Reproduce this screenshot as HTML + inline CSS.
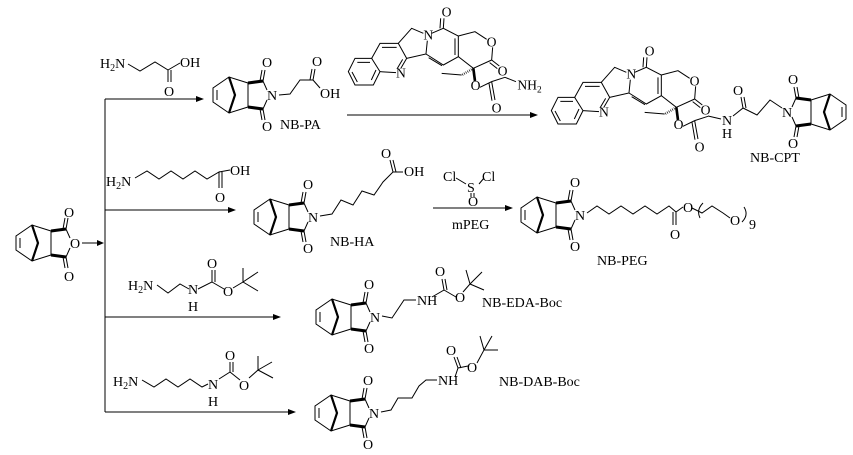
<!DOCTYPE html>
<html><head><meta charset="utf-8"><style>
html,body{margin:0;padding:0;background:#fff;}
svg{display:block;}
text{font-family:"Liberation Serif",serif;font-size:14px;fill:#000;}
.z text{font-size:41px;}
</style></head><body>
<svg width="853" height="455" viewBox="0 0 853 455" xmlns="http://www.w3.org/2000/svg">
<defs>
<g id="nb" stroke="#000" stroke-width="1" fill="none">
  <path d="M-5,-5 L-9,-14 L-24,-12 M-5,5 L-9,14 L-24,12 M-24,-12 L-24,12 M-24,-12 L-43,-18 L-59,-7 L-59,7 L-43,18 L-24,12 M-55,-5 L-55,5"/>
  <path d="M-9,-14 L-24,-12 M-9,14 L-24,12" stroke-width="3"/>
  <path d="M-43,-18 L-37,0 L-43,18" stroke-width="2.2"/>
  <path d="M-9,-14 L-7,-25 M-12,-14 L-10,-25 M-9,14 L-7,25 M-12,14 L-10,25"/>
</g>
<g id="cpt" stroke="#000" stroke-width="3" fill="none">
  <path d="M25,215 L45,175 L95,175 L120,215 L100,255 L45,255 Z M52,187 L90,187 M36,216 L52,246 M108,210 L94,240"/>
  <path d="M95,175 L120,130 L175,130 L200,175 L182,206 M168,218 L120,215 M126,142 L170,142 M188,178 L172,205"/>
  <path d="M175,130 L215,85 L250,100 M200,175 L258,162 L262,122"/>
  <path d="M275,100 L310,85 L355,108 L355,170 L310,195 L258,162 M345,115 L345,165 M266,173 L306,197 M310,85 L312,55 M300,85 L302,55"/>
  <path d="M355,108 L405,95 L440,118 M458,142 L455,180 L400,205 L355,170 M455,180 L478,198 M449,188 L472,206"/>
  <path d="M365,225 L305,220"/>
  <path d="M400,205 L366,225" stroke-width="7" stroke-dasharray="2 4"/>
  <path d="M400,205 L405,243" stroke-width="8"/>
  <path d="M420,262 L455,245 L465,300 M447,250 L456,302 M455,245 L495,232"/>
</g>
</defs>

<g stroke="#000" stroke-width="1" fill="none">
  <path d="M82,243 L100,243"/>
  <path d="M105,99 L105,412"/>
  <path d="M105,99 L197,99 M105,210 L229,210 M105,317 L274,317 M105,412 L289,412"/>
  <path d="M347,115 L531,115 M433,208 L506,208"/>
</g>
<g fill="#000">
  <path d="M104,243 l-7,-3 v6z"/>
  <path d="M204,99 l-8,-3 v6z"/>
  <path d="M236,210 l-8,-3 v6z"/>
  <path d="M281,317 l-8,-3 v6z"/>
  <path d="M296,412 l-8,-3 v6z"/>
  <path d="M538,115 l-8,-3 v6z"/>
  <path d="M513,208 l-8,-3 v6z"/>
</g>

<use href="#nb" x="75" y="243"/>
<text x="75" y="248" text-anchor="middle">O</text>
<text x="69" y="217" text-anchor="middle">O</text>
<text x="69" y="281" text-anchor="middle">O</text>

<g stroke="#000" fill="none"><path d="M128,64 L140,71 L155,62 L168,70 L168,82 M171,70 L171,82 M168,70 L180,63"/></g>
<text x="100" y="68">H<tspan font-size="10" dy="3">2</tspan><tspan dy="-3">N</tspan></text>
<text x="164" y="96">O</text>
<text x="180" y="67">OH</text>

<use href="#nb" x="272" y="95"/>
<text x="272" y="100" text-anchor="middle">N</text>
<text x="267" y="67" text-anchor="middle">O</text>
<text x="267" y="131" text-anchor="middle">O</text>
<g stroke="#000" fill="none"><path d="M279,95 L290,94 L300,80 L313,80 L315,69 M310,80 L312,69 M313,80 L320,88"/></g>
<text x="312" y="66">O</text>
<text x="320" y="98">OH</text>
<text x="280" y="129">NB-PA</text>

<g transform="translate(340,0) scale(0.3333)" class="z">
  <use href="#cpt"/>
  <g stroke="#000" stroke-width="3" fill="none"><path d="M495,232 L528,245"/></g>
  <text x="168" y="232">N</text>
  <text x="250" y="118">N</text>
  <text x="305" y="50">O</text>
  <text x="440" y="140">O</text>
  <text x="473" y="226">O</text>
  <text x="392" y="270">O</text>
  <text x="455" y="338">O</text>
  <text x="532" y="268">NH<tspan font-size="28" dy="9">2</tspan></text>
</g>

<g transform="translate(543,39) scale(0.3333)" class="z">
  <use href="#cpt"/>
  <text x="168" y="232">N</text>
  <text x="250" y="118">N</text>
  <text x="305" y="50">O</text>
  <text x="440" y="140">O</text>
  <text x="473" y="226">O</text>
  <text x="392" y="270">O</text>
  <text x="455" y="338">O</text>
</g>
<g stroke="#000" fill="none"><path d="M708,116 L721,119 M733,116 L743,108 L741,97 M746,108 L744,97 M743,108 L757,115 L770,100 L782,108"/></g>
<text x="727" y="125" text-anchor="middle">N</text>
<text x="727" y="138" text-anchor="middle">H</text>
<text x="738" y="95" text-anchor="middle">O</text>
<use href="#nb" transform="translate(787,112) scale(-1,1)"/>
<text x="787" y="117" text-anchor="middle">N</text>
<text x="793" y="84" text-anchor="middle">O</text>
<text x="793" y="148" text-anchor="middle">O</text>
<text x="750" y="162">NB-CPT</text>

<g stroke="#000" fill="none"><path d="M135,178 L147,171 L159,179 L171,171 L183,179 L195,171 L207,179 L219,172 L219,188 M222,172 L222,188 M219,172 L230,170"/></g>
<text x="106" y="186">H<tspan font-size="10" dy="3">2</tspan><tspan dy="-3">N</tspan></text>
<text x="215" y="202">O</text>
<text x="230" y="175">OH</text>

<use href="#nb" x="313" y="217"/>
<text x="313" y="222" text-anchor="middle">N</text>
<text x="308" y="189" text-anchor="middle">O</text>
<text x="308" y="253" text-anchor="middle">O</text>
<g stroke="#000" fill="none"><path d="M320,216 L332,214 L341,200 L353,205 L362,191 L374,195 L383,182 L393,172 L390,160 M396,172 L393,160 M393,172 L403,172"/></g>
<text x="386" y="158" text-anchor="middle">O</text>
<text x="404" y="176">OH</text>
<text x="330" y="246">NB-HA</text>

<text x="443" y="181">Cl</text>
<text x="467" y="192">S</text>
<text x="482" y="181">Cl</text>
<text x="468" y="206">O</text>
<g stroke="#000" fill="none"><path d="M456,178 L466,184 M479,184 L484,178 M471,193 L471,197 M474,193 L474,197"/></g>
<text x="452" y="229">mPEG</text>

<use href="#nb" x="580" y="215"/>
<text x="580" y="220" text-anchor="middle">N</text>
<text x="575" y="187" text-anchor="middle">O</text>
<text x="575" y="251" text-anchor="middle">O</text>
<g stroke="#000" fill="none"><path d="M587,213 L597,206 L609,214 L621,206 L633,214 L645,206 L657,214 L669,206 L676,212 L676,225 M673,212 L673,225 M676,212 L683,207 M692,208 L702,213 L712,206 L723,213 L730,218 M700,218 Q696,210 703,203 M742,222 Q749,215 744,207"/></g>
<text x="670" y="239">O</text>
<text x="683" y="212">O</text>
<text x="730" y="225">O</text>
<text x="749" y="229">9</text>
<text x="597" y="265">NB-PEG</text>

<g stroke="#000" fill="none"><path d="M157,285 L168,293 L180,284 L189,289 M198,289 L212,282 L212,270 M215,282 L215,270 M212,282 L224,289 M233,288 L243,282 L243,268 M243,282 L258,291 M243,282 L258,272"/></g>
<text x="128" y="290">H<tspan font-size="10" dy="3">2</tspan><tspan dy="-3">N</tspan></text>
<text x="193" y="294" text-anchor="middle">N</text>
<text x="193" y="311" text-anchor="middle">H</text>
<text x="212" y="268" text-anchor="middle">O</text>
<text x="228" y="296" text-anchor="middle">O</text>

<use href="#nb" x="375" y="317"/>
<text x="375" y="322" text-anchor="middle">N</text>
<text x="369" y="289" text-anchor="middle">O</text>
<text x="369" y="353" text-anchor="middle">O</text>
<g stroke="#000" fill="none"><path d="M382,316 L392,318 L404,300 L416,300 M432,297 L444,290 L442,279 M447,290 L445,279 M444,290 L456,297 M463,292 L470,284 L466,270 M470,284 L484,290 M470,284 L482,272"/></g>
<text x="417" y="305">NH</text>
<text x="440" y="276" text-anchor="middle">O</text>
<text x="460" y="302" text-anchor="middle">O</text>
<text x="482" y="307">NB-EDA-Boc</text>

<g stroke="#000" fill="none"><path d="M142,380 L154,387 L166,379 L178,387 L190,379 L202,387 L208,384 M219,379 L230,372 L230,362 M233,372 L233,362 M230,372 L240,380 M249,378 L258,370 L258,356 M258,370 L273,378 M258,370 L272,362"/></g>
<text x="113" y="386">H<tspan font-size="10" dy="3">2</tspan><tspan dy="-3">N</tspan></text>
<text x="213" y="389" text-anchor="middle">N</text>
<text x="213" y="406" text-anchor="middle">H</text>
<text x="230" y="360" text-anchor="middle">O</text>
<text x="244" y="390" text-anchor="middle">O</text>

<use href="#nb" x="374" y="413"/>
<text x="374" y="418" text-anchor="middle">N</text>
<text x="368" y="385" text-anchor="middle">O</text>
<text x="368" y="449" text-anchor="middle">O</text>
<g stroke="#000" fill="none"><path d="M381,412 L391,410 L398,398 L412,398 L419,386 L426,380 L437,380 M455,377 L458,368 L454,357 M461,368 L457,357 M458,368 L468,366 M477,363 L484,350 L480,336 M484,350 L498,350 M484,350 L492,336"/></g>
<text x="438" y="385">NH</text>
<text x="451" y="355" text-anchor="middle">O</text>
<text x="472" y="372" text-anchor="middle">O</text>
<text x="499" y="386">NB-DAB-Boc</text>
</svg>
</body></html>
